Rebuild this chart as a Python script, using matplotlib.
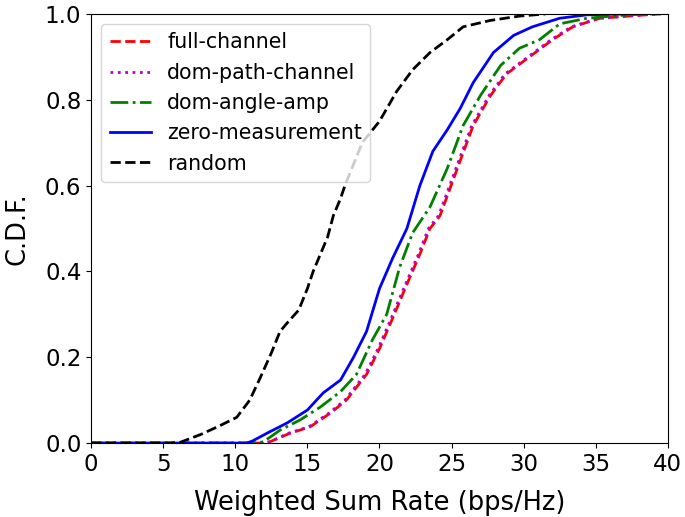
import numpy as np
import matplotlib
matplotlib.use('Agg')
import matplotlib.pyplot as plt

# CDF points (x = rate, y = cdf)
full_x = [0, 12.0, 12.4, 13.8, 15.2, 16.6, 17.7, 19.1, 20.0, 20.9, 21.9, 22.8, 23.5, 24.2, 25.4, 26.5, 27.7, 28.8, 30.4, 32.0, 33.4, 35.3, 38.5, 39.5]
full_y = [0, 0.0, 0.003, 0.023, 0.038, 0.07, 0.10, 0.16, 0.22, 0.29, 0.37, 0.44, 0.50, 0.53, 0.64, 0.74, 0.81, 0.86, 0.90, 0.94, 0.97, 0.99, 0.998, 1.0]

dom_path_x = [0, 12.0, 12.4, 13.7, 15.1, 16.5, 17.6, 19.0, 19.9, 20.8, 21.8, 22.7, 23.4, 24.1, 25.3, 26.4, 27.6, 28.7, 30.3, 31.9, 33.3, 35.2, 38.3, 39.5]
dom_path_y = [0, 0.0, 0.003, 0.023, 0.038, 0.07, 0.10, 0.16, 0.22, 0.29, 0.37, 0.44, 0.50, 0.53, 0.64, 0.74, 0.81, 0.86, 0.90, 0.94, 0.97, 0.99, 0.998, 1.0]

angle_x = [0, 11.6, 12.0, 13.1, 14.5, 15.9, 17.3, 18.4, 19.5, 20.5, 21.4, 22.3, 23.5, 24.7, 25.8, 27.0, 28.4, 29.7, 31.1, 32.5, 34.4, 37.2, 39.0]
angle_y = [0, 0.0, 0.004, 0.03, 0.054, 0.084, 0.12, 0.16, 0.24, 0.30, 0.41, 0.49, 0.55, 0.64, 0.74, 0.81, 0.88, 0.92, 0.94, 0.977, 0.99, 0.998, 1.0]

zero_x = [0, 10.8, 11.2, 12.2, 13.6, 15.0, 16.1, 17.3, 18.2, 19.1, 20.0, 20.9, 21.9, 22.8, 23.7, 24.7, 25.6, 26.5, 27.9, 29.3, 30.6, 32.5, 34.4, 37.0]
zero_y = [0, 0.0, 0.005, 0.023, 0.047, 0.077, 0.117, 0.147, 0.20, 0.26, 0.36, 0.43, 0.50, 0.60, 0.68, 0.73, 0.78, 0.84, 0.91, 0.95, 0.97, 0.99, 0.998, 1.0]

rand_x = [0, 5.5, 6.2, 7.6, 8.9, 10.1, 11.0, 11.7, 12.5, 13.1, 13.6, 14.4, 15.0, 15.4, 15.9, 16.4, 16.8, 17.3, 17.6, 18.8, 20.0, 21.2, 22.3, 23.5, 24.7, 25.8, 27.7, 29.7, 31.5]
rand_y = [0, 0.0, 0.002, 0.02, 0.04, 0.06, 0.10, 0.15, 0.21, 0.26, 0.28, 0.31, 0.36, 0.40, 0.44, 0.48, 0.53, 0.57, 0.60, 0.70, 0.75, 0.82, 0.87, 0.91, 0.94, 0.97, 0.985, 0.995, 1.0]

fig = plt.figure(figsize=(6.85, 5.17), dpi=100)
ax = fig.add_axes([0.133, 0.143, 0.842, 0.830])

ax.plot(full_x, full_y, 'r--', lw=2, label='full-channel')
ax.plot(dom_path_x, dom_path_y, 'm:', lw=2, label='dom-path-channel')
ax.plot(angle_x, angle_y, 'g-.', lw=2, label='dom-angle-amp')
ax.plot(zero_x, zero_y, 'b-', lw=2, label='zero-measurement')
ax.plot(rand_x, rand_y, 'k--', lw=2, label='random')

ax.set_xlim(0, 40)
ax.set_ylim(0, 1)
ax.set_xticks(np.arange(0, 41, 5))
ax.set_yticks(np.arange(0, 1.01, 0.2))
ax.tick_params(labelsize=16.5)
ax.set_xlabel('Weighted Sum Rate (bps/Hz)', fontsize=18.5, labelpad=10)
ax.set_ylabel('C.D.F.', fontsize=18.5, labelpad=10)
ax.legend(loc='upper left', fontsize=14.8, handlelength=2)

fig.savefig('out.png', dpi=100)
